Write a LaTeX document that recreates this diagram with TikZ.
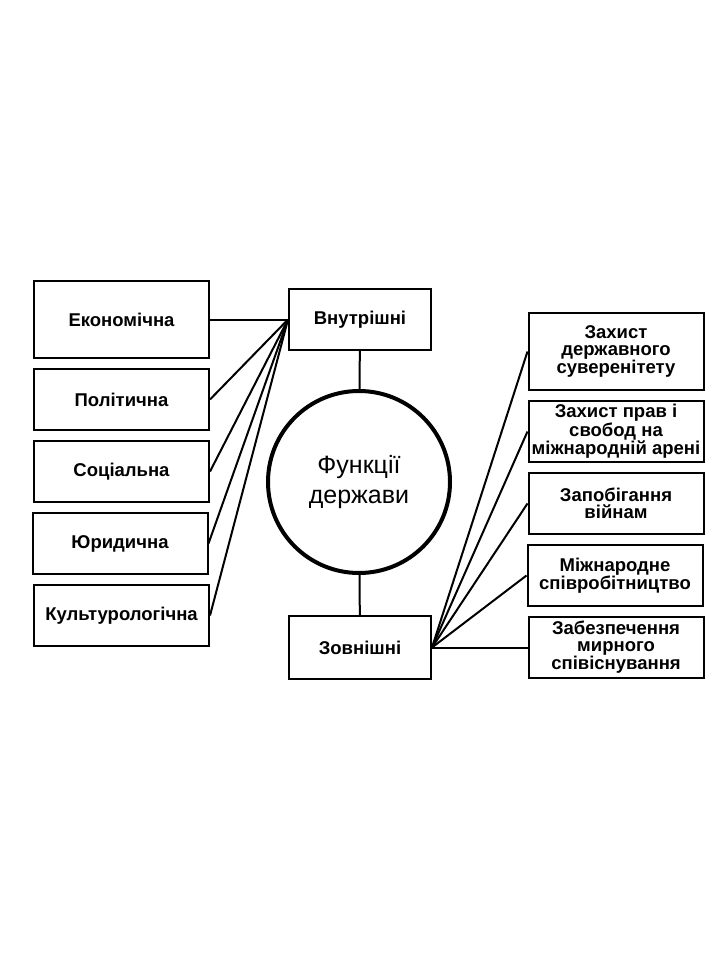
\documentclass[tikz,border=0pt]{standalone}
\usepackage{fontspec}
\setmainfont{Liberation Sans}
\begin{document}
\begin{tikzpicture}[x=1pt, y=-1pt,
    box/.style={draw, line width=2pt, minimum width=175pt, minimum height=61pt,
        inner sep=1pt, align=center, font=\bfseries\fontsize{18.5}{17}\selectfont},
    tallbox/.style={box, minimum height=77pt},
    midbox/.style={box, minimum width=142pt},
    link/.style={line width=2pt}]
    \useasboundingbox (0, 0) rectangle (720, 960);

    % Nodes
    \node[tallbox] at (121.5, 319.5) (Econ) {Економічна};
    \node[box] at (121.5, 399.5) (Polit) {Політична};
    \node[box] at (121.5, 471.5) (Soc) {Соціальна};
    \node[box] at (120, 543.5) (Jur) {Юридична};
    \node[box] at (121.5, 615.5) (Cult) {Культурологічна};

    \node[midbox] at (360, 319.5) (Int) {Внутрішні};
    \node[midbox, minimum height=63pt] at (360, 647.5) (Ext) {Зовнішні};
    \node[draw, circle, line width=4pt, minimum size=182pt, align=center,
        font=\fontsize{25}{30}\selectfont] at (359, 482) (F) {Функції\\держави};

    \node[tallbox] at (616, 351.5) (Sov) {Захист\\державного\\суверенітету};
    \node[box] at (616, 431.5) (Rights) {Захист прав і\\свобод на\\міжнародній арені};
    \node[box] at (616, 503.5) (War) {Запобігання\\війнам};
    \node[box] at (615, 575.5) (Coop) {Міжнародне\\співробітництво};
    \node[box] at (616, 647.5) (Peace) {Забезпечення\\мирного\\співіснування};

    % Lines
    \draw[link] (Int) -- (F);
    \draw[link] (Ext) -- (F);
    \foreach \n in {Econ, Polit, Soc, Jur, Cult}
        \draw[link] (Int.west) -- (\n.east);
    \foreach \n in {Sov, Rights, War, Coop, Peace}
        \draw[link] (Ext.east) -- (\n.west);
\end{tikzpicture}
\end{document}
